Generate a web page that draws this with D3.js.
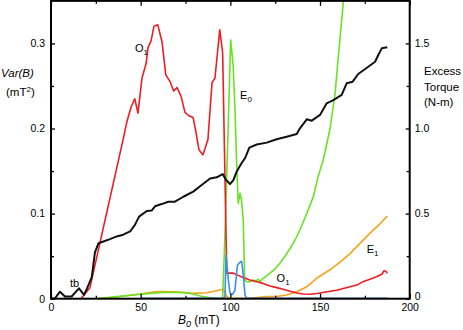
<!DOCTYPE html>
<html><head><meta charset="utf-8">
<script src="https://cdn.jsdelivr.net/npm/d3@7"></script>
<style>body{margin:0;background:#fff}svg{display:block}text{font-family:"Liberation Sans",Arial,sans-serif;fill:#000}</style>
</head><body><svg id="c" width="463" height="330"></svg>
<script>
// Var(B) series (mT^2) : [B0 (mT), value]
const redO1 = [[0,0],[16.7,0],[21.7,0.013],[40.1,0.186],[42.2,0.207],[44.6,0.225],[46.7,0.235],[48.5,0.218],[50.7,0.259],[53.0,0.276],[54.1,0.295],[55.8,0.303],[57.4,0.320],[59.5,0.322],[61.9,0.302],[64.0,0.263],[66.4,0.255],[68.4,0.244],[70.3,0.248],[72.5,0.238],[74.7,0.219],[76.9,0.215],[79.2,0.213],[80.8,0.196],[82.5,0.175],[84.7,0.169],[87.5,0.187],[89.8,0.254],[91.4,0.259],[94.1,0.316],[95.7,0.289],[98.0,0.030],[101.7,0.030],[103.8,0.028],[107.1,0.025],[110.9,0.022],[114.9,0.020],[118.2,0.018],[122.1,0.015],[125.9,0.013],[129.4,0.011],[133.3,0.0087],[137.2,0.0067],[140.5,0.0055],[144.4,0.0052],[148.3,0.0061],[151.6,0.0072],[155.6,0.0087],[159.4,0.010],[162.9,0.012],[166.7,0.014],[170.6,0.016],[173.9,0.020],[177.8,0.023],[181.8,0.026],[184.6,0.029],[185.7,0.033],[186.8,0.032],[187.5,0.030]];
const greenE0 = [[25.5,0],[36.6,0.0024],[45.9,0.0043],[55.2,0.0063],[64.5,0.0075],[73.8,0.0071],[79.3,0.0055],[83.1,0.0032],[90.5,0.0005],[95.7,0],[96.9,0.069],[100.2,0.304],[101.6,0.273],[102.6,0.222],[103.5,0.159],[104.4,0.112],[105.4,0.124],[106.3,0.114],[107.2,0.092],[108.0,0.022],[109.1,0.020],[110.9,0.020],[112.8,0.022],[113.7,0.020],[115.6,0.023],[116.5,0.020],[118.4,0.024],[122.1,0.030],[124.9,0.035],[127.7,0.042],[130.5,0.050],[133.3,0.059],[136.1,0.069],[138.8,0.081],[142.6,0.100],[146.3,0.120],[149.0,0.144],[151.8,0.163],[155.6,0.200],[158.4,0.241],[160.2,0.284],[162.1,0.328],[163.5,0.360]];
const orangeE1 = [[25.5,0],[36.6,0.002],[49.6,0.0055],[58.9,0.0085],[70.1,0.0082],[79.3,0.0063],[86.8,0.007],[92.4,0.0094],[96.1,0.011],[98.0,0.0024],[99.8,0.0002],[103.5,0.0005],[111.0,0.0005],[120.3,0.0024],[125.8,0.0026],[131.4,0.0043],[137.0,0.0082],[142.6,0.014],[148.1,0.024],[155.6,0.034],[161.1,0.043],[166.7,0.053],[172.3,0.065],[177.9,0.077],[183.4,0.088],[187.5,0.097]];
const blueE = [[50,0.0004],[96.5,0.0004],[97.0,0.0024],[97.6,0.0513],[98.9,0.022],[99.8,0.0065],[101.2,0.005],[102.6,0.010],[103.9,0.039],[105.0,0.042],[106.3,0.044],[107.2,0.028],[108.2,0.004],[109.1,0.0005],[187.5,0.0005]];
// Excess torque (N-m), right axis
const torque = [[0,0],[2.2,0.002],[5.0,0.041],[7.8,0.013],[11.5,0.013],[15.6,0.061],[18.4,0.022],[20.1,0.061],[22.7,0.125],[24.5,0.272],[26.5,0.326],[29.2,0.336],[32.9,0.350],[36.6,0.366],[40.3,0.376],[44.1,0.395],[46.8,0.434],[49.1,0.482],[53.4,0.515],[56.1,0.518],[58.0,0.543],[61.7,0.556],[65.4,0.570],[69.1,0.570],[73.8,0.599],[79.3,0.629],[84.0,0.668],[88.7,0.706],[92.4,0.713],[95.7,0.732],[97.6,0.697],[99.8,0.674],[101.7,0.697],[103.5,0.746],[106.3,0.797],[108.2,0.826],[110.6,0.888],[114.7,0.906],[120.3,0.917],[125.8,0.937],[131.4,0.952],[137.0,0.968],[138.8,1.001],[142.6,1.054],[145.4,1.046],[150.0,1.080],[153.7,1.148],[157.4,1.167],[162.1,1.197],[164.9,1.266],[168.2,1.275],[171.3,1.320],[176.9,1.363],[180.7,1.392],[182.5,1.432],[184.4,1.471],[187.5,1.477]];
const xTicks = [0,50,100,150,200];
const xMinor = [25,75,125,175];
const yTicks = [0,0.1,0.2,0.3];
const yMinor = [0.05,0.15,0.25];
const y2Ticks = [0,0.5,1.0,1.5];
const y2Minor = [0.25,0.75,1.25];
// annotations [B0, Var(B), main, sub]
const labels = [[46.8,0.290,"O","1"],[105.4,0.2347,"E","0"],[125.8,0.0196,"O","1"],[176.0,0.0537,"E","1"],[10.6,0.0137,"tb",""]];

const svg = d3.select("#c");
const L=51, R=409.7, T=0.85, B=298.7;
const x = d3.scaleLinear().domain([0,200]).range([L,R]);
const y = d3.scaleLinear().domain([0,0.35]).range([B,T]);
const y2 = d3.scaleLinear().domain([0,1.75]).range([B,T]);

svg.append("clipPath").attr("id","clip").append("rect").attr("x",L).attr("y",T).attr("width",R-L).attr("height",B-T);
const g = svg.append("g").attr("clip-path","url(#clip)");
const line = d3.line().x(d=>x(d[0])).y(d=>y(d[1]));
const line2 = d3.line().x(d=>x(d[0])).y(d=>y2(d[1]));
const series = [[orangeE1,"#f7a21b"],[greenE0,"#68e324"],[redO1,"#ee1d23"],[blueE,"#3b8fe8"]];
series.forEach(([d,c])=>g.append("path").attr("d",line(d)).attr("fill","none").attr("stroke",c).attr("stroke-width",1.6).attr("stroke-linejoin","round"));
g.append("path").attr("d",line2(torque)).attr("fill","none").attr("stroke","#111").attr("stroke-width",2).attr("stroke-linejoin","round");

// frame
svg.append("rect").attr("x",L).attr("y",T).attr("width",R-L).attr("height",B-T).attr("fill","none").attr("stroke","#000").attr("stroke-width",2);

function styleAx(sel){sel.select(".domain").remove();sel.selectAll("line").attr("stroke","#000").attr("stroke-width",1.3);sel.selectAll("text").style("font-family",'"Liberation Sans",Arial,sans-serif').style("font-size","10.5px").attr("fill","#000");}
svg.append("g").attr("transform",`translate(0,${B})`).call(d3.axisBottom(x).tickValues(xTicks).tickSize(-5).tickPadding(5).tickFormat(d3.format("d"))).call(styleAx);
svg.append("g").attr("transform",`translate(0,${B})`).call(d3.axisBottom(x).tickValues(xMinor).tickSize(-3).tickFormat("")).call(styleAx);
svg.append("g").attr("transform",`translate(0,${T})`).call(d3.axisTop(x).tickValues(xTicks).tickSize(-5).tickFormat("")).call(styleAx);
svg.append("g").attr("transform",`translate(0,${T})`).call(d3.axisTop(x).tickValues(xMinor).tickSize(-3).tickFormat("")).call(styleAx);
svg.append("g").attr("transform",`translate(${L},0)`).call(d3.axisLeft(y).tickValues(yTicks).tickSize(-4).tickPadding(6).tickFormat(d=>d===0?"0":d3.format(".1f")(d))).call(styleAx);
svg.append("g").attr("transform",`translate(${L},0)`).call(d3.axisLeft(y).tickValues(yMinor).tickSize(-3).tickFormat("")).call(styleAx);
const rAx = svg.append("g").attr("transform",`translate(${R},0)`).call(d3.axisRight(y2).tickValues(y2Ticks).tickSize(-4).tickPadding(5).tickFormat(d=>d===0?"0":d3.format(".1f")(d))).call(styleAx);
rAx.selectAll(".tick").filter(d=>d===0).select("text").attr("dy","0.05em");
svg.append("g").attr("transform",`translate(${R},0)`).call(d3.axisRight(y2).tickValues(y2Minor).tickSize(-3).tickFormat("")).call(styleAx);

// curve labels
labels.forEach(([bx,vy,m,s])=>{
  const t = svg.append("text").attr("x",x(bx)).attr("y",y(vy)).style("font-size","11px");
  t.append("tspan").text(m);
  if(s) t.append("tspan").attr("dy",3).style("font-size","8px").text(s);
});

// axis titles
const vt = svg.append("text").attr("x",1).attr("y",77).style("font-size","11.5px").style("font-style","italic").text("Var(B)");
const mt = svg.append("text").attr("x",6).attr("y",96).style("font-size","11.5px");
mt.append("tspan").text("(mT");
mt.append("tspan").attr("dy",-4).style("font-size","8px").text("2");
mt.append("tspan").attr("dy",4).text(")");
["Excess","Torque","(N-m)"].forEach((s,i)=>svg.append("text").attr("x",424).attr("y",75+i*15.5).style("font-size","11.5px").text(s));
const bt = svg.append("text").attr("x",178).attr("y",324).style("font-size","12px");
bt.append("tspan").style("font-style","italic").text("B");
bt.append("tspan").attr("dy",2.5).style("font-size","9px").style("font-style","italic").text("0");
bt.append("tspan").attr("dy",-2.5).text(" (mT)");
</script></body></html>
